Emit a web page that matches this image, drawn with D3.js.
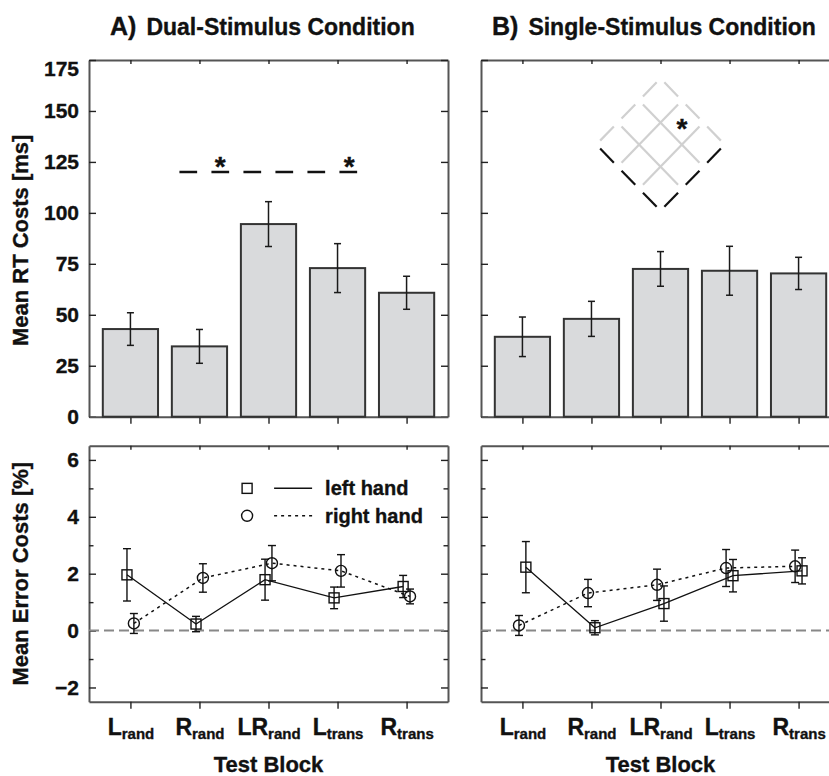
<!DOCTYPE html>
<html>
<head>
<meta charset="utf-8">
<script src="https://cdn.jsdelivr.net/npm/d3@7"></script>
<style>
  body { margin: 0; background: #fff; }
  text { font-family: "Liberation Sans", Arial, Helvetica, sans-serif; font-weight: bold; fill: #111; stroke: #111; stroke-width: 0.35px; }
</style>
</head>
<body>
<div id="chart"></div>
<script>
const width = 829;
const height = 776;

// categories (test blocks): main letter + subscript
const blockMain = ["L", "R", "LR", "L", "R"];
const blockSub = ["rand", "rand", "rand", "trans", "trans"];

// RT costs (ms) with error bars
const rtDual = [43, 34.5, 94.5, 72.9, 60.8];
const rtDualErr = [8, 8.3, 11, 12, 8.1];
const rtSingle = [39.2, 48, 72.5, 71.6, 70.3];
const rtSingleErr = [9.7, 8.6, 8.5, 12, 7.9];

// error costs (%) per hand
const errDualLeft = [1.96, 0.23, 1.79, 1.15, 1.55];
const errDualLeftSE = [0.92, 0.27, 0.72, 0.38, 0.39];
const errDualRight = [0.25, 1.85, 2.37, 2.1, 1.2];
const errDualRightSE = [0.35, 0.5, 0.62, 0.57, 0.26];
const errSingleLeft = [2.23, 0.1, 0.95, 1.93, 2.1];
const errSingleLeftSE = [0.9, 0.25, 0.62, 0.57, 0.46];
const errSingleRight = [0.18, 1.32, 1.61, 2.2, 2.26];
const errSingleRightSE = [0.35, 0.48, 0.55, 0.65, 0.57];

// tick labels
const rtTicks = [0, 25, 50, 75, 100, 125, 150, 175];
const errTicks = [-2, 0, 2, 4, 6];
const errMinorTicks = [-1, 1, 3, 5];

// significance marks
const dualSigLine = { from: 0.71, to: 3.3, value: 120 };
const dualSigStars = [1.3, 3.17];
const singleMatrix = { center: 2, value: 133.5, halfX: 0.93, halfY: 32.5, cells: 3, star: [1, 0] };

const panels = [
  { letter: "A)", title: "Dual-Stimulus Condition", left: 89, titleX: 21, rt: rtDual, rtErr: rtDualErr,
    hands: [
      { name: "left hand", vals: errDualLeft, se: errDualLeftSE, off: -0.05, shape: "square", dash: null },
      { name: "right hand", vals: errDualRight, se: errDualRightSE, off: 0.05, shape: "circle", dash: "3,4" }
    ], legend: true, yLabels: true },
  { letter: "B)", title: "Single-Stimulus Condition", left: 481, titleX: 11, rt: rtSingle, rtErr: rtSingleErr,
    hands: [
      { name: "left hand", vals: errSingleLeft, se: errSingleLeftSE, off: 0.05, shape: "square", dash: null },
      { name: "right hand", vals: errSingleRight, se: errSingleRightSE, off: -0.05, shape: "circle", dash: "3,4" }
    ], legend: false, yLabels: false }
];

const panelW = 359;
const topY = d3.scaleLinear().domain([0, 175]).range([416.7, 60]);
const botY = d3.scaleLinear().domain([-2.5, 6.5]).range([701.7, 445.7]);

const svg = d3.select("#chart").append("svg")
  .attr("width", width)
  .attr("height", height);

const axisColor = "#555";

function styleAxis(g) {
  g.select(".domain").attr("stroke", axisColor).attr("stroke-width", 2);
  g.selectAll(".tick line").attr("stroke", "#222").attr("stroke-width", 1.4);
  g.selectAll(".tick text").attr("font-size", 21).attr("fill", "#111");
}

function drawFrame(x, y, yTicks, minorTicks, withLabels) {
  const [x0, x1] = x.range();
  const [yb, yt] = y.range();
  const idx = d3.range(5);

  // top border
  svg.append("g").attr("transform", `translate(0,${yt})`)
    .call(d3.axisTop(x).tickValues(idx).tickSize(-4).tickSizeOuter(0).tickFormat(""))
    .call(styleAxis);
  // right border
  const r = svg.append("g").attr("transform", `translate(${x1},0)`)
    .call(d3.axisRight(y).tickValues(yTicks).tickSize(-7).tickSizeOuter(0).tickFormat(""))
    .call(styleAxis);
  // left axis
  const l = svg.append("g").attr("transform", `translate(${x0},0)`)
    .call(d3.axisLeft(y).tickValues(yTicks).tickSize(-7).tickSizeOuter(0).tickPadding(10)
      .tickFormat(withLabels ? d3.format("d") : ""))
    .call(styleAxis);
  if (minorTicks) {
    [[l, d3.axisLeft], [r, d3.axisRight]].forEach(([g, ax]) => {
      const m = svg.append("g").attr("transform", g.attr("transform"))
        .call(ax(y).tickValues(minorTicks).tickSize(-4.5).tickSizeOuter(0).tickFormat(""));
      m.select(".domain").remove();
      m.selectAll(".tick line").attr("stroke", "#222").attr("stroke-width", 1.4);
    });
  }
  // bottom axis
  const b = svg.append("g").attr("transform", `translate(0,${yb})`)
    .call(d3.axisBottom(x).tickValues(idx).tickSize(7).tickSizeOuter(0).tickFormat(""))
    .call(styleAxis);
  return { l, b };
}

panels.forEach((p) => {
  const x = d3.scaleLinear().domain([-0.6, 4.6]).range([p.left, p.left + panelW]);
  const step = x(1) - x(0);
  const idx = d3.range(5);

  // title
  const t = svg.append("text").attr("x", p.left + p.titleX).attr("y", 35);
  t.append("tspan").attr("font-size", 25).text(p.letter);
  t.append("tspan").attr("font-size", 23).attr("dx", 10).text(p.title);

  // ---------- top: RT costs ----------
  const top = drawFrame(x, topY, rtTicks, null, p.yLabels);
  top.l.selectAll(".tick text").filter((d) => d === 175).attr("dy", "0.75em");

  svg.append("g").selectAll("rect").data(p.rt).enter().append("rect")
    .attr("x", (d, i) => x(i) - step * 0.4)
    .attr("width", step * 0.8)
    .attr("y", (d) => topY(d))
    .attr("height", (d) => topY(0) - topY(d))
    .attr("fill", "#d9dadc")
    .attr("stroke", "#333")
    .attr("stroke-width", 2);

  const eb = svg.append("g").attr("stroke", "#1a1a1a").attr("stroke-width", 1.5);
  idx.forEach((i) => {
    const lo = topY(p.rt[i] - p.rtErr[i]), hi = topY(p.rt[i] + p.rtErr[i]);
    eb.append("line").attr("x1", x(i)).attr("x2", x(i)).attr("y1", lo).attr("y2", hi);
    eb.append("line").attr("x1", x(i) - 3.5).attr("x2", x(i) + 3.5).attr("y1", lo).attr("y2", lo);
    eb.append("line").attr("x1", x(i) - 3.5).attr("x2", x(i) + 3.5).attr("y1", hi).attr("y2", hi);
  });

  if (p.letter === "A)") {
    svg.append("line")
      .attr("x1", x(dualSigLine.from)).attr("x2", x(dualSigLine.to))
      .attr("y1", topY(dualSigLine.value)).attr("y2", topY(dualSigLine.value))
      .attr("stroke", "#111").attr("stroke-width", 2.5)
      .attr("stroke-dasharray", "17.7,14.3");
    svg.selectAll(null).data(dualSigStars).enter().append("text")
      .attr("x", (d) => x(d)).attr("y", topY(dualSigLine.value) + 4)
      .attr("text-anchor", "middle").attr("font-size", 28).text("*");
  } else {
    // comparison matrix drawn as a rotated grid
    const m = singleMatrix;
    const n = m.cells;
    const topV = [x(m.center), topY(m.value + m.halfY)];
    const rightV = [x(m.center + m.halfX), topY(m.value)];
    const leftV = [x(m.center - m.halfX), topY(m.value)];
    const pt = (a, b) => [
      topV[0] + (rightV[0] - topV[0]) * a / n + (leftV[0] - topV[0]) * b / n,
      topV[1] + (rightV[1] - topV[1]) * a / n + (leftV[1] - topV[1]) * b / n
    ];
    const gap = 0.18;
    const gg = svg.append("g").attr("stroke-width", 2.2).attr("fill", "none");
    const seg = (p1, p2, color) => gg.append("line")
      .attr("x1", p1[0]).attr("y1", p1[1]).attr("x2", p2[0]).attr("y2", p2[1]).attr("stroke", color);
    const gray = "#d0d0d0";
    // interior lines
    for (let k = 1; k < n; k++) {
      seg(pt(k, gap), pt(k, n - gap), gray);
      seg(pt(gap, k), pt(n - gap, k), gray);
    }
    // outer edges, dashed per cell
    for (let k = 0; k < n; k++) {
      seg(pt(k + gap, 0), pt(k + 1 - gap, 0), gray);
      seg(pt(0, k + gap), pt(0, k + 1 - gap), gray);
      seg(pt(k + gap, n), pt(k + 1 - gap, n), "#111");
      seg(pt(n, k + gap), pt(n, k + 1 - gap), "#111");
    }
    const sp = pt(m.star[0] + 0.5, m.star[1] + 0.5);
    svg.append("text").attr("x", sp[0]).attr("y", sp[1] + 15)
      .attr("text-anchor", "middle").attr("font-size", 28).text("*");
  }

  // ---------- bottom: error costs ----------
  const bot = drawFrame(x, botY, errTicks, errMinorTicks, p.yLabels);

  svg.append("line")
    .attr("x1", x.range()[0]).attr("x2", x.range()[1])
    .attr("y1", botY(0)).attr("y2", botY(0))
    .attr("stroke", "#888").attr("stroke-width", 2)
    .attr("stroke-dasharray", "10,5");

  p.hands.forEach((h) => {
    const line = d3.line().x((d, i) => x(i + h.off)).y((d) => botY(d));
    svg.append("path").datum(h.vals)
      .attr("d", line)
      .attr("fill", "none")
      .attr("stroke", "#111")
      .attr("stroke-width", h.dash ? 1.5 : 1.3)
      .attr("stroke-dasharray", h.dash);
  });
  p.hands.forEach((h) => {
    const g = svg.append("g").attr("stroke", "#111").attr("stroke-width", 1.4).attr("fill", "none");
    idx.forEach((i) => {
      const cx = x(i + h.off);
      const lo = botY(h.vals[i] - h.se[i]), hi = botY(h.vals[i] + h.se[i]);
      g.append("line").attr("x1", cx).attr("x2", cx).attr("y1", lo).attr("y2", hi);
      g.append("line").attr("x1", cx - 4).attr("x2", cx + 4).attr("y1", lo).attr("y2", lo);
      g.append("line").attr("x1", cx - 4).attr("x2", cx + 4).attr("y1", hi).attr("y2", hi);
      const cy = botY(h.vals[i]);
      if (h.shape === "square") {
        g.append("rect").attr("x", cx - 5).attr("y", cy - 5).attr("width", 10).attr("height", 10);
      } else {
        g.append("circle").attr("cx", cx).attr("cy", cy).attr("r", 5.5);
      }
    });
  });

  if (p.legend) {
    const lx = x(1.69), ly = botY(5.0);
    const lg = svg.append("g");
    p.hands.forEach((h, k) => {
      const yy = ly + k * 27.4;
      if (h.shape === "square") {
        lg.append("rect").attr("x", lx - 5).attr("y", yy - 5).attr("width", 10).attr("height", 10)
          .attr("fill", "none").attr("stroke", "#111").attr("stroke-width", 1.4);
      } else {
        lg.append("circle").attr("cx", lx).attr("cy", yy).attr("r", 5.5)
          .attr("fill", "none").attr("stroke", "#111").attr("stroke-width", 1.4);
      }
      lg.append("line").attr("x1", lx + 27).attr("x2", lx + 65).attr("y1", yy).attr("y2", yy)
        .attr("stroke", "#111").attr("stroke-width", 1.5).attr("stroke-dasharray", h.dash);
      lg.append("text").attr("x", lx + 78).attr("y", yy + 7).attr("font-size", 20).text(h.name);
    });
  }

  // x tick labels with subscripts
  bot.b.selectAll(".tick").each(function (d) {
    const txt = d3.select(this).append("text")
      .attr("y", 33).attr("text-anchor", "middle").attr("fill", "#111");
    txt.append("tspan").attr("font-size", 23).text(blockMain[d]);
    txt.append("tspan").attr("font-size", 15).attr("dy", 4).text(blockSub[d]);
  });

  svg.append("text")
    .attr("x", x(2)).attr("y", 772)
    .attr("text-anchor", "middle").attr("font-size", 22)
    .text("Test Block");
});

// y axis titles
svg.append("text")
  .attr("transform", `translate(28,${(topY(0) + topY(175)) / 2 + 2}) rotate(-90)`)
  .attr("text-anchor", "middle").attr("font-size", 22)
  .text("Mean RT Costs [ms]");
svg.append("text")
  .attr("transform", `translate(28,${(botY(-2.5) + botY(6.5)) / 2}) rotate(-90)`)
  .attr("text-anchor", "middle").attr("font-size", 22)
  .text("Mean Error Costs [%]");
</script>
</body>
</html>
